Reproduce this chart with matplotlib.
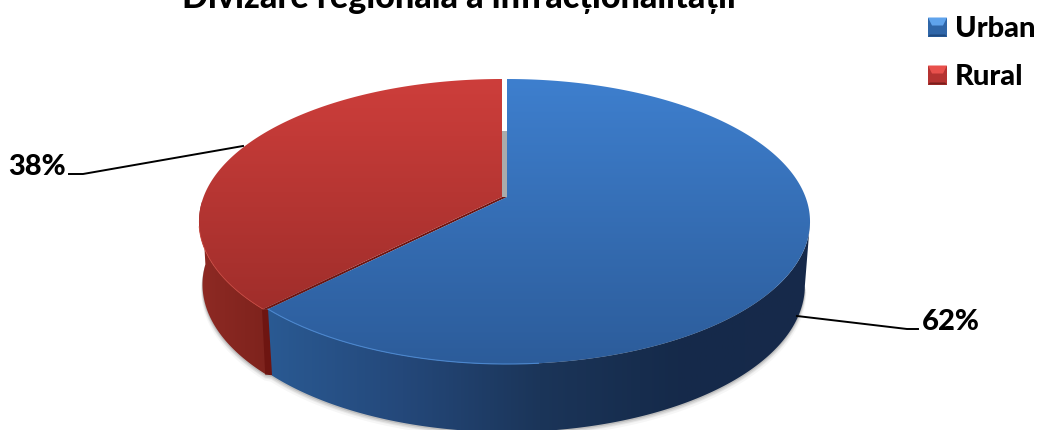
import numpy as np
import matplotlib
matplotlib.use("Agg")
import matplotlib.pyplot as plt
from matplotlib.patches import Polygon
from matplotlib.colors import LinearSegmentedColormap as LSC

categories = ["Urban", "Rural"]
values = [62.4, 37.6]
title = "Divizare regională a infracționalității"
label_texts = ["62%", "38%"]

W, H = 1037, 430
plt.rcParams["font.family"] = ["Lato", "DejaVu Sans"]
fig = plt.figure(figsize=(W / 100, H / 100), dpi=100)
ax = fig.add_axes([0, 0, 1, 1])
ax.set_xlim(0, W)
ax.set_ylim(H, 0)
ax.axis("off")

K, B, A = 0.172, 298.5, 138.3
DEPTH = 64
SX = 0.983
EY = 221


def project(deg, cx, cy, depth=0.0, sx=1.0):
    t = np.radians(deg)
    X, Y = np.sin(t), np.cos(t)
    d = 1 + K * Y
    y = cy - A * Y / d
    return cx + sx * B * X / d, y + (depth + (y - EY) * 0.028 if depth else 0)


def arc(a0, a1, cx, cy, depth=0.0, sx=1.0, n=240):
    x, y = project(np.linspace(a0, a1, n), cx, cy, depth, sx)
    return np.column_stack([x, y])


def grad(poly, colors, extent, vertical=True, z=2):
    m = np.linspace(0, 1, 256)
    m = m[:, None] if vertical else m[None, :]
    im = ax.imshow(m, cmap=LSC.from_list("g", colors), extent=extent, aspect="auto",
                   zorder=z, vmin=0, vmax=1, interpolation="bilinear")
    p = Polygon(poly, closed=True, transform=ax.transData, fc="none", ec="none")
    ax.add_patch(p)
    im.set_clip_path(p)


total = sum(values)
a_u = 360 * values[0] / total
BC = (507, 197)   # urban slice apex
RC = (502, 197)   # rural slice apex
R_SX, R_DEPTH = 0.995, DEPTH - 1

# soft shadow below the pie
ring = np.vstack([arc(100, a_u, BC[0], BC[1], DEPTH, SX), arc(a_u, 268, RC[0] + 2, RC[1], R_DEPTH, R_SX)])
for i, al in zip([6, 4, 3, 1.5], [0.05, 0.08, 0.12, 0.2]):
    ax.add_patch(Polygon(np.column_stack([ring[:, 0] + 0.25 * i * np.sign(ring[:, 0] - 500),
                                          ring[:, 1] + i]), closed=True,
                         fc=(0.35, 0.35, 0.35, al), ec="none", zorder=1))

# inner wall seen through the gap
ax.add_patch(Polygon([(RC[0], 131), (BC[0], 131), (BC[0], 197), (RC[0], 200)], closed=True,
                     fc="#ABABAB", ec="none", zorder=1.5))

# rural side wall
rt = arc(a_u, 268, RC[0], RC[1])
rb = arc(a_u, 268, RC[0] + 2, RC[1], R_DEPTH, R_SX)
grad(np.vstack([rt, rb[::-1]]), ["#8F2A24", "#7C221C"], (195, 275, 430, 200), vertical=False, z=1.7)

# urban side wall
bt = arc(100, a_u, BC[0], BC[1])
bb = arc(100, a_u, BC[0], BC[1], DEPTH, SX)
grad(np.vstack([bt, bb[::-1]]), ["#2A5A93", "#24487A", "#1B3559", "#152A4A", "#17294A"],
     (265, 815, 0, 430), vertical=False, z=2)

# cut face of the rural slice
ax.add_patch(Polygon([rt[0] + [-1, 0], bt[-1] + [3, 0], bb[-1] + [3, 0], rb[0] + [-1, 0]],
                     closed=True, fc="#6E1511", ec="none", zorder=1.9))
ax.add_patch(Polygon([RC, BC, bt[-1], rt[0]], closed=True, fc="#6E1511", ec="none", zorder=3))

# rural top
rp = np.vstack([[RC], arc(a_u, 360, RC[0], RC[1])])
grad(rp, ["#CD3E3B", "#9E2D2A"], (190, 510, 320, 79), vertical=True, z=4)
ax.plot(*arc(a_u, 258, RC[0], RC[1]).T, color="#C9473F", lw=0.6, zorder=4.5)

# urban top
bp = np.vstack([[BC], arc(0, a_u, BC[0], BC[1])])
grad(bp, ["#3E7FCE", "#2C5C9A"], (260, 815, 365, 79), vertical=True, z=5)
ax.plot(*arc(175, a_u, BC[0], BC[1]).T, color="#4A86CE", lw=0.8, zorder=5.5)

# leader lines and value labels
ax.plot([243, 83, 69], [146, 174, 174], color="black", lw=1.4, zorder=6)
ax.plot([797, 907, 918], [316, 329, 329], color="black", lw=1.4, zorder=6)
fs = 21
wt = "black"
ax.text(950.5, 321.5, label_texts[0], fontsize=fs, fontweight=wt, ha="center", va="center", color="black")
ax.text(37, 167, label_texts[1], fontsize=fs, fontweight=wt, ha="center", va="center", color="black")

# title, cropped by the top edge as in the reference
ax.text(459, 8.5, title, fontsize=24.6, fontweight=wt, ha="center", va="baseline", color="black", clip_on=True)

# legend with bevelled markers
swatches = [("#2F66A8", "#5FA3EC", "#1F4A80"), ("#B53331", "#E8504C", "#7A1E1C")]
for name, (mid, light, dark), yc in zip(categories, swatches, [27, 75]):
    x0, x1, y0, y1 = 928, 947, yc - 9.5, yc + 9.5
    ax.add_patch(Polygon([(x0, y0), (x1, y0), (x1, y1), (x0, y1)], fc=mid, ec="none", zorder=6))
    ax.add_patch(Polygon([(x0, y0), (x1, y0), (x1 - 4, y0 + 8), (x0 + 4, y0 + 8)], fc=light, ec="none", zorder=7))
    ax.add_patch(Polygon([(x0, y1), (x1, y1), (x1 - 2, y1 - 2), (x0 + 2, y1 - 2)], fc=dark, ec="none", zorder=7))
    ax.text(955, yc + 2, name, fontsize=fs, fontweight=wt, ha="left", va="center", color="black")

ax.set_xlim(0, W)
ax.set_ylim(H, 0)
fig.savefig("out.png", dpi=100, facecolor="white")
